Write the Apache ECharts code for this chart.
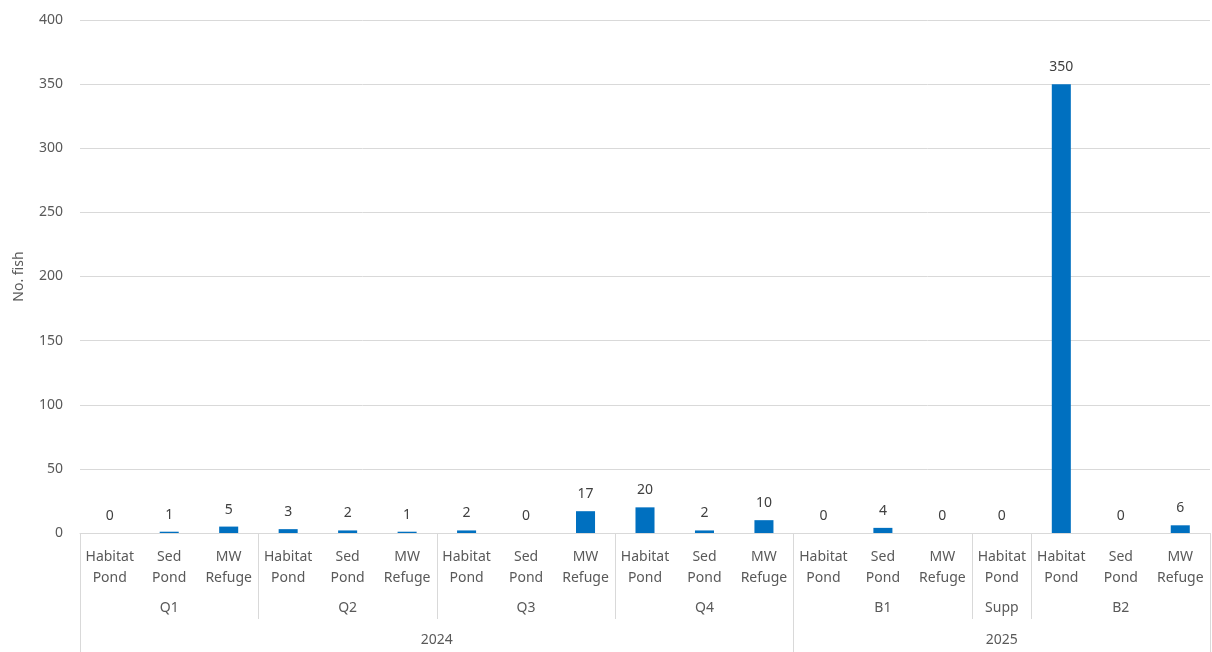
<!DOCTYPE html>
<html>
<head>
<meta charset="utf-8">
<script src="https://cdn.jsdelivr.net/npm/echarts@6/dist/echarts.min.js"></script>
<style>
html,body{margin:0;padding:0;background:#fff;}
#chart{width:1212px;height:652px;}
</style>
</head>
<body>
<div id="chart"></div>
<script>
const categories = [
  'Habitat\nPond','Sed\nPond','MW\nRefuge',
  'Habitat\nPond','Sed\nPond','MW\nRefuge',
  'Habitat\nPond','Sed\nPond','MW\nRefuge',
  'Habitat\nPond','Sed\nPond','MW\nRefuge',
  'Habitat\nPond','Sed\nPond','MW\nRefuge',
  'Habitat\nPond',
  'Habitat\nPond','Sed\nPond','MW\nRefuge'
];
const values = [0,1,5, 3,2,1, 2,0,17, 20,2,10, 0,4,0, 0, 350,0,6];
const groups = ['Q1','Q2','Q3','Q4','B1','Supp','B2'];
const groupSizes = [3,3,3,3,3,1,3];
const years = ['2024','2025'];
const yearSizes = [12,7];
const yMin = 0, yMax = 400, yStep = 50;
const yAxisTitle = 'No. fish';

function layoutLevel(names, sizes){
  const bounds = [0]; const centers = []; const map = {};
  let acc = 0;
  sizes.forEach((s,i)=>{ centers.push(acc + s/2); map[(acc + s/2).toFixed(2)] = names[i]; acc += s; bounds.push(acc); });
  return {bounds, centers, map};
}
const gLev = layoutLevel(groups, groupSizes);
const yLev = layoutLevel(years, yearSizes);
const N = categories.length;

const FONT = 'Noto Sans';
const txt = '#595959';
const lineCol = '#d9d9d9';

const chart = echarts.init(document.getElementById('chart'), null, {renderer:'canvas'});
chart.setOption({
  animation:false,
  textStyle:{fontFamily:FONT},
  grid:{left:80, right:2, top:20, bottom:119, containLabel:false},
  xAxis:[
    {
      type:'category', data:categories, position:'bottom',
      axisLine:{show:true, lineStyle:{color:lineCol, width:1}},
      axisTick:{show:false},
      axisLabel:{interval:0, color:txt, fontSize:14, lineHeight:21, margin:14, fontFamily:FONT, align:'center'},
      splitLine:{show:false}
    },
    {
      type:'value', min:0, max:N, position:'bottom', offset:0,
      axisLine:{show:false},
      splitLine:{show:false},
      axisTick:{show:true, length:86, customValues:gLev.bounds, lineStyle:{color:lineCol, width:1}},
      axisLabel:{show:true, customValues:gLev.centers, color:txt, fontSize:14, margin:68, fontFamily:FONT,
        formatter:v=>gLev.map[v.toFixed(2)] || ''}
    },
    {
      type:'value', min:0, max:N, position:'bottom', offset:0,
      axisLine:{show:false},
      splitLine:{show:false},
      axisTick:{show:true, length:130, customValues:yLev.bounds, lineStyle:{color:lineCol, width:1}},
      axisLabel:{show:true, customValues:yLev.centers, color:txt, fontSize:14, margin:100, fontFamily:FONT,
        formatter:v=>yLev.map[v.toFixed(2)] || ''}
    }
  ],
  yAxis:{
    type:'value', min:yMin, max:yMax, interval:yStep,
    name:yAxisTitle, nameLocation:'middle', nameRotate:90, nameGap:54,
    nameTextStyle:{color:txt, fontSize:14, fontFamily:FONT},
    axisLine:{show:false}, axisTick:{show:false},
    axisLabel:{color:txt, fontSize:14, margin:17, fontFamily:FONT},
    splitLine:{show:true, lineStyle:{color:lineCol, width:1}}
  },
  series:[{
    type:'bar', xAxisIndex:0, data:values, barWidth:'32%',
    itemStyle:{color:'#0070C0'},
    label:{show:true, position:'top', distance:10, color:'#404040', fontSize:14, fontFamily:FONT}
  }]
});
</script>
</body>
</html>
